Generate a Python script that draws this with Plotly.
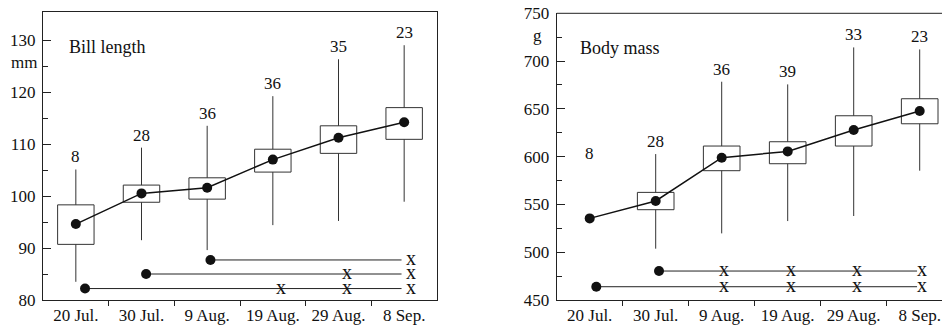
import plotly.graph_objects as go

W, H = 942, 325
FONT = "Liberation Serif, Times New Roman, DejaVu Serif, serif"

dates = ["20 Jul.", "30 Jul.", "9 Aug.", "19 Aug.", "29 Aug.", "8 Sep."]

# ---- Bill length (mm)
bill_n = [8, 28, 36, 36, 35, 23]
bill_mean = [94.6, 100.5, 101.6, 107.0, 111.2, 114.2]
bill_q1 = [90.7, 98.8, 99.4, 104.6, 108.2, 110.9]
bill_q3 = [98.3, 102.1, 103.5, 109.0, 113.5, 117.0]
bill_lo = [83.5, 91.5, 89.6, 94.4, 95.2, 98.9]
bill_hi = [105.1, 109.3, 113.5, 119.2, 126.3, 129.0]
bill_track_level = [87.7, 85.0, 82.2]
bill_track_start = [2.05, 1.07, 0.14]
bill_track_marks = [[5.1], [4.13, 5.1], [3.12, 4.13, 5.1]]

# ---- Body mass (g)
mass_n = [8, 28, 36, 39, 33, 23]
mass_mean = [535.4, 553.6, 598.9, 605.5, 627.8, 647.7]
mass_q1 = [None, 544.5, 585.3, 592.6, 611.1, 634.4]
mass_q3 = [None, 562.6, 611.1, 615.6, 642.8, 660.6]
mass_lo = [None, 503.7, 519.7, 532.6, 537.9, 585.3]
mass_hi = [None, 602.7, 678.4, 675.6, 714.3, 712.2]
mass_track_level = [480.3, 463.9]
mass_track_start = [1.05, 0.1]
mass_track_marks = [[2.03, 3.05, 4.05, 5.03], [2.03, 3.05, 4.05, 5.03]]

TRACK_END = 4.96

def px_x(p):
    return p / W

def px_y(p):
    return (H - p) / H

fig = go.Figure()
annotations = []

def add_panel(xa, ya, n, mean, q1, q3, lo, hi, lv, st, marks, title, title_x, unit, unit_y, n_fallback):
    xr, yr = xa.replace("axis", ""), ya.replace("axis", "")
    idx = [i for i in range(len(dates)) if q1[i] is not None]
    # whiskers
    wx, wy = [], []
    for i in idx:
        wx += [i, i, None, i, i, None]
        wy += [q3[i], hi[i], None, lo[i], q1[i], None]
    fig.add_trace(go.Scatter(x=wx, y=wy, mode="lines", line=dict(color="#333333", width=1),
                             xaxis=xr, yaxis=yr, showlegend=False, hoverinfo="skip"))
    # boxes
    fig.add_trace(go.Bar(
        x=idx, base=[q1[i] for i in idx], y=[q3[i] - q1[i] for i in idx], width=0.555,
        marker=dict(color="rgba(255,255,255,0)", line=dict(color="#333333", width=1)),
        xaxis=xr, yaxis=yr, showlegend=False, hoverinfo="skip"))
    fig.add_trace(go.Scatter(
        x=list(range(len(dates))), y=mean, mode="lines+markers",
        line=dict(color="#111111", width=1.5), marker=dict(color="#111111", size=10),
        xaxis=xr, yaxis=yr, showlegend=False, hoverinfo="skip"))
    for level, s, mk in zip(lv, st, marks):
        fig.add_trace(go.Scatter(
            x=[s, TRACK_END], y=[level, level], mode="lines",
            line=dict(color="#222222", width=1), xaxis=xr, yaxis=yr,
            showlegend=False, hoverinfo="skip"))
        fig.add_trace(go.Scatter(
            x=[s], y=[level], mode="markers", marker=dict(color="#111111", size=10),
            xaxis=xr, yaxis=yr, showlegend=False, hoverinfo="skip"))
        for m in mk:
            annotations.append(dict(x=m, y=level, xref=xr, yref=yr, text="x",
                                    showarrow=False, yshift=2, borderpad=0,
                                    font=dict(family=FONT, size=20, color="#111")))
    for i in range(len(dates)):
        ytop = hi[i] if hi[i] is not None else n_fallback
        annotations.append(dict(x=i, y=ytop, xref=xr, yref=yr, text=str(n[i]),
                                showarrow=False, yanchor="bottom", yshift=1,
                                font=dict(family=FONT, size=17, color="#111")))
    annotations.append(dict(x=title_x, y=0.88, xref=xr + " domain", yref=yr + " domain",
                            text=title, showarrow=False, xanchor="left", yanchor="middle",
                            font=dict(family=FONT, size=18, color="#111")))
    annotations.append(dict(x=0, y=unit_y, xref=xr + " domain", yref=yr, text=unit,
                            showarrow=False, xanchor="center", yanchor="middle", xshift=-19,
                            font=dict(family=FONT, size=17, color="#111")))

add_panel("xaxis", "yaxis", bill_n, bill_mean, bill_q1, bill_q3, bill_lo, bill_hi,
          bill_track_level, bill_track_start, bill_track_marks, "Bill length", 0.061,
          "mm", 125.6, None)
add_panel("xaxis2", "yaxis2", mass_n, mass_mean, mass_q1, mass_q3, mass_lo, mass_hi,
          mass_track_level, mass_track_start, mass_track_marks, "Body mass", 0.055,
          "g", 727, 590)

tickfont = dict(family=FONT, size=17, color="#111")

def xaxis(domain, rng, mirror, anchor):
    return dict(domain=domain, range=rng, tickmode="array", tickvals=list(range(6)),
                ticktext=dates, ticks="", showgrid=False, zeroline=False,
                showline=True, linecolor="#222", linewidth=1, mirror=mirror,
                tickfont=tickfont, automargin=False, fixedrange=True, anchor=anchor,
                minor=dict(tickmode="array", tickvals=[0.5, 1.5, 2.5, 3.5, 4.5],
                           ticks="outside", ticklen=5, tickcolor="#222", tickwidth=1))

def yaxis(domain, rng, major, minor, anchor, mirror):
    return dict(domain=domain, range=rng, tickmode="array", tickvals=major,
                ticks="inside", ticklen=8, tickcolor="#222", tickwidth=1,
                showgrid=False, zeroline=False, showline=True, linecolor="#222",
                linewidth=1, mirror=mirror, tickfont=tickfont, automargin=False,
                anchor=anchor, fixedrange=True, ticklabelstandoff=3,
                minor=dict(tickmode="array", tickvals=minor, ticks="inside",
                           ticklen=5, tickcolor="#222", tickwidth=1))

fig.update_layout(
    width=W, height=H, margin=dict(l=0, r=0, t=0, b=0),
    paper_bgcolor="white", plot_bgcolor="white", showlegend=False, barmode="overlay",
    xaxis=xaxis([px_x(43), px_x(437)], [-0.5, 5.5], True, "y"),
    yaxis=yaxis([px_y(300), px_y(12.3)], [80, 135.33], [80, 90, 100, 110, 120, 130],
                [85, 95, 105, 115, 125], "x", True),
    xaxis2=xaxis([px_x(556.7), 1.0], [-0.5, 5.338], False, "y2"),
    yaxis2=yaxis([px_y(300), px_y(13.3)], [450, 750], [450, 500, 550, 600, 650, 700, 750],
                 [475, 525, 575, 625, 675, 725], "x2", False),
    annotations=annotations,
)
# top border for right panel
fig.add_shape(type="line", xref="x2 domain", yref="y2 domain", x0=0, x1=1, y0=1, y1=1,
              line=dict(color="#222", width=1))

fig.write_html("out.html")
